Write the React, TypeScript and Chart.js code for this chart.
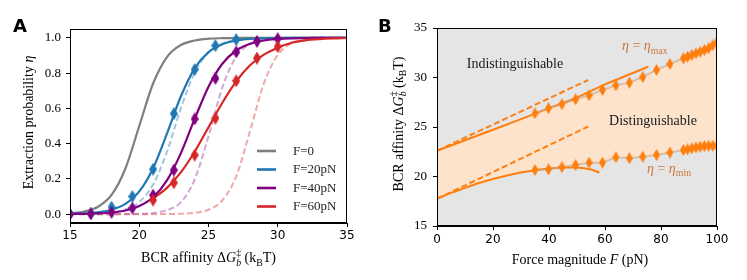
import React, { useEffect, useRef } from "react";
import { Chart, registerables } from "chart.js";
Chart.register(...registerables);

// ---------- Panel A data ----------
const affinity = [15, 16, 17, 18, 19, 20, 21, 22, 23, 24, 25, 26, 27, 28, 29, 30, 31, 32, 33, 34, 35];
const etaF0 = [0.005, 0.015, 0.041, 0.109, 0.259, 0.5, 0.741, 0.891, 0.959, 0.985, 0.995, 0.998, 0.999, 1, 1, 1, 1, 1, 1, 1, 1];
const etaF20 = [0.002, 0.0045, 0.011, 0.025, 0.058, 0.129, 0.261, 0.457, 0.667, 0.827, 0.919, 0.964, 0.985, 0.994, 0.997, 0.999, 1, 1, 1, 1, 1];
const etaF20Dashed = [0.0005, 0.0014, 0.0037, 0.0099, 0.027, 0.069, 0.168, 0.354, 0.599, 0.802, 0.917, 0.968, 0.988, 0.996, 0.998, 0.999, 1, 1, 1, 1, 1];
const etaF40 = [0.0009, 0.0019, 0.0043, 0.0096, 0.021, 0.046, 0.096, 0.192, 0.345, 0.54, 0.723, 0.853, 0.928, 0.966, 0.985, 0.993, 0.997, 0.9986, 0.9994, 1, 1];
const etaF40Dashed = [0, 0, 0.0001, 0.0002, 0.0007, 0.0021, 0.007, 0.023, 0.067, 0.196, 0.442, 0.719, 0.893, 0.964, 0.989, 0.9965, 0.999, 1, 1, 1, 1];
const affinityF60 = [21, 22, 23, 24, 25, 26, 27, 28, 29, 30, 31, 32, 33, 34, 35];
const etaF60 = [0.09, 0.149, 0.237, 0.354, 0.493, 0.632, 0.753, 0.844, 0.905, 0.944, 0.972, 0.986, 0.993, 0.997, 0.999];
const etaF60Dashed = [0, 0, 0, 0, 0, 0.0001, 0.0002, 0.0008, 0.0025, 0.008, 0.025, 0.078, 0.215, 0.471, 0.742, 0.903, 0.968, 0.99, 0.997, 0.999, 1];

const simAffF20 = [15, 16.5, 18, 19.5, 21, 22.5, 24, 25.5, 27];
const simEtaF20 = [0.002, 0.005, 0.04, 0.1, 0.255, 0.57, 0.82, 0.956, 0.99];
const simAffF40 = [15, 16.5, 18, 19.5, 21, 22.5, 24, 25.5, 27, 28.5, 30];
const simEtaF40 = [0.0, 0.002, 0.01, 0.035, 0.108, 0.25, 0.54, 0.77, 0.92, 0.98, 0.995];
const simAffF60 = [21, 22.5, 24, 25.5, 27, 28.5, 30];
const simEtaF60 = [0.08, 0.178, 0.335, 0.544, 0.756, 0.885, 0.95];

const legendLabels = ["F=0", "F=20pN", "F=40pN", "F=60pN"];
const xTicksA = [15, 20, 25, 30, 35];
const yTicksA = [0, 0.2, 0.4, 0.6, 0.8, 1.0];
const yTickLabelsA = ["0.0", "0.2", "0.4", "0.6", "0.8", "1.0"];

// ---------- Panel B data ----------
const forceMarkers = [35, 39.8, 44.6, 49.5, 54.3, 59.1, 63.9, 68.7, 73.5, 78.4, 83.2, 88, 89.5, 91, 92.5, 94, 95.5, 97, 98.5, 100];
const etaMaxMarkers = [26.38, 26.9, 27.3, 27.8, 28.2, 28.74, 29.2, 29.48, 30.05, 30.76, 31.36, 31.94, 32.1, 32.27, 32.44, 32.6, 32.78, 32.95, 33.25, 33.6];
const etaMinMarkers = [20.66, 20.72, 20.95, 21.16, 21.4, 21.4, 21.94, 21.84, 22.0, 22.17, 22.42, 22.68, 22.74, 22.84, 22.94, 23.0, 23.07, 23.1, 23.1, 23.1];
const forceUpperFit = [0, 10, 20, 30, 40, 50, 60, 70, 75.5];
const upperFit = [22.6, 23.66, 24.72, 25.8, 26.9, 28.0, 29.3, 30.45, 31.1];
const forceLowerFit = [0, 5, 10, 15, 20, 25, 30, 35, 40, 45, 50, 55, 58];
const lowerFit = [17.75, 18.35, 18.85, 19.35, 19.75, 20.1, 20.4, 20.62, 20.8, 20.92, 20.9, 20.7, 20.4];
const forceLinear = [0, 54];
const upperLinear = [22.6, 29.75];
const lowerLinear = [17.75, 25.05];
const xTicksB = [0, 20, 40, 60, 80, 100];
const yTicksB = [15, 20, 25, 30, 35];

const SERIF = '"Liberation Serif", "DejaVu Serif", serif';
const SANS = '"DejaVu Sans", sans-serif';
const ORANGE = "#ff7f0e";

type Seg = { t: string; it?: boolean; pos?: "sup" | "sub"; stack?: boolean };

function drawRich(ctx: CanvasRenderingContext2D, segs: Seg[], x: number, y: number, size: number, align: "center" | "left", rotate = 0, color = "#000") {
  ctx.save();
  const items: { t: string; font: string; dx: number; dy: number }[] = [];
  let cx = 0, lastStart = 0, lastW = 0;
  for (const s of segs) {
    const fs = s.pos ? size * 0.7 : size;
    const font = `${s.it ? "italic " : ""}${fs}px ${SERIF}`;
    ctx.font = font;
    const w = ctx.measureText(s.t).width;
    let dx: number;
    if (s.stack) {
      dx = lastStart;
      cx = lastStart + Math.max(lastW, w);
    } else {
      dx = cx;
      lastStart = cx;
      lastW = w;
      cx += w;
    }
    const dy = s.pos === "sup" ? -size * 0.4 : s.pos === "sub" ? size * 0.25 : 0;
    items.push({ t: s.t, font, dx, dy });
  }
  ctx.translate(x, y);
  if (rotate) ctx.rotate(rotate);
  ctx.fillStyle = color;
  ctx.textBaseline = "alphabetic";
  ctx.textAlign = "left";
  const off = align === "center" ? -cx / 2 : 0;
  for (const it of items) {
    ctx.font = it.font;
    ctx.fillText(it.t, off + it.dx, it.dy);
  }
  ctx.restore();
}

const affinityTitle: Seg[] = [
  { t: "BCR affinity Δ" },
  { t: "G", it: true },
  { t: "‡", pos: "sup" },
  { t: "b", pos: "sub", it: true, stack: true },
  { t: " (k" },
  { t: "B", pos: "sub" },
  { t: "T)" },
];

function diamond(color: string, w: number, h: number) {
  const c = document.createElement("canvas");
  c.width = w;
  c.height = h;
  const g = c.getContext("2d")!;
  g.fillStyle = color;
  g.beginPath();
  g.moveTo(w / 2, 0);
  g.lineTo(w, h / 2);
  g.lineTo(w / 2, h);
  g.lineTo(0, h / 2);
  g.closePath();
  g.fill();
  return c;
}

const pts = (xs: number[], ys: number[]) => xs.map((x, i) => ({ x, y: ys[i] }));

function tickScale(min: number, max: number, ticks: number[], labels: string[], isX: boolean, size: number, pad: number) {
  return {
    type: "linear" as const,
    min,
    max,
    afterBuildTicks: (s: any) => {
      s.ticks = ticks.map((v) => ({ value: v }));
    },
    afterFit: (s: any) => {
      if (isX) s.height = size;
      else s.width = size;
    },
    grid: { display: true, drawOnChartArea: false, drawTicks: true, tickLength: 4, tickColor: "#000", tickWidth: 1 },
    border: { display: true, color: "#000", width: 1 },
    ticks: {
      autoSkip: false,
      maxRotation: 0,
      padding: pad,
      color: "#000",
      font: isX ? { family: SANS, size: 12 } : { family: SERIF, size: 13 },
      callback: (_v: any, i: number) => labels[i],
    },
  };
}

function PanelA() {
  const ref = useRef<HTMLCanvasElement>(null);
  useEffect(() => {
    const gray = "#7f7f7f", blue = "#1f77b4", purple = "#800080", red = "#d62728";
    const solid = (label: string, xs: number[], ys: number[], color: string, order: number) => ({
      label, data: pts(xs, ys), borderColor: color, borderWidth: 2.2, pointRadius: 0,
      cubicInterpolationMode: "monotone" as const, fill: false, order,
    });
    const dashed = (xs: number[], ys: number[], color: string, order: number) => ({
      label: "", data: pts(xs, ys), borderColor: color, borderWidth: 2, borderDash: [6, 3], pointRadius: 0,
      cubicInterpolationMode: "monotone" as const, fill: false, order,
    });
    const marks = (xs: number[], ys: number[], color: string, order: number) => ({
      label: "", data: pts(xs, ys), showLine: false, pointStyle: diamond(color, 8, 13) as any,
      pointRadius: 6, borderWidth: 0, backgroundColor: color, order,
    });
    const plugin = {
      id: "decorA",
      afterDraw(chart: any) {
        const ctx = chart.ctx as CanvasRenderingContext2D;
        const a = chart.chartArea;
        ctx.save();
        ctx.strokeStyle = "#000";
        ctx.lineWidth = 1;
        ctx.strokeRect(Math.round(a.left) + 0.5, Math.round(a.top) + 0.5, Math.round(a.right - a.left) - 1, Math.round(a.bottom - a.top) - 1);
        // legend
        const colors = [gray, blue, purple, red];
        const ys = [151, 169.5, 188, 206.5];
        legendLabels.forEach((lab, i) => {
          ctx.strokeStyle = colors[i];
          ctx.lineWidth = 2.6;
          ctx.beginPath();
          ctx.moveTo(257, ys[i]);
          ctx.lineTo(276, ys[i]);
          ctx.stroke();
          ctx.fillStyle = "#222";
          ctx.font = `13px ${SERIF}`;
          ctx.textBaseline = "middle";
          ctx.textAlign = "left";
          ctx.fillText(lab, 293, ys[i] + 0.5);
        });
        // panel label
        ctx.fillStyle = "#000";
        ctx.font = `bold 18px ${SANS}`;
        ctx.textBaseline = "alphabetic";
        ctx.fillText("A", 13, 32);
        ctx.restore();
        drawRich(ctx, affinityTitle, (a.left + a.right) / 2, 262, 14, "center");
        drawRich(ctx, [{ t: "Extraction probability " }, { t: "η", it: true }], 33, 122.5, 14, "center", -Math.PI / 2);
      },
    };
    const chart = new Chart(ref.current!, {
      type: "line",
      data: {
        datasets: [
          solid(legendLabels[0], affinity, etaF0, gray, 8),
          solid(legendLabels[1], affinity, etaF20, blue, 7),
          solid(legendLabels[2], affinity, etaF40, purple, 6),
          solid(legendLabels[3], affinityF60, etaF60, red, 5),
          dashed(affinity, etaF20Dashed, "rgba(31,119,180,0.42)", 12),
          dashed(affinity, etaF40Dashed, "rgba(128,0,128,0.35)", 11),
          dashed(affinity, etaF60Dashed, "rgba(214,39,40,0.4)", 10),
          marks(simAffF20, simEtaF20, blue, 3),
          marks(simAffF40, simEtaF40, purple, 2),
          marks(simAffF60, simEtaF60, red, 1),
        ] as any,
      },
      options: {
        animation: false,
        responsive: false,
        events: [],
        layout: { padding: { top: 29, right: 23, left: 0, bottom: 0 } },
        plugins: { legend: { display: false }, tooltip: { enabled: false }, title: { display: false } },
        scales: {
          x: tickScale(15, 35, xTicksA, xTicksA.map(String), true, 57, 2),
          y: tickScale(-0.05, 1.05, yTicksA, yTickLabelsA, false, 70, 5),
        },
      } as any,
      plugins: [plugin],
    });
    return () => chart.destroy();
  }, []);
  return <canvas ref={ref} width={370} height={280} style={{ position: "absolute", left: 0, top: 0, width: 370, height: 280 }} />;
}

function PanelB() {
  const ref = useRef<HTMLCanvasElement>(null);
  useEffect(() => {
    const bandUpperX = forceUpperFit.filter((x) => x <= 30);
    const bandUpper = upperFit.filter((_, i) => forceUpperFit[i] <= 30);
    const bandLowerX = forceLowerFit.filter((x) => x <= 30 && x % 10 === 0);
    const bandLower = lowerFit.filter((_, i) => forceLowerFit[i] <= 30 && forceLowerFit[i] % 10 === 0);
    const dia = diamond(ORANGE, 7, 12);
    const plugin = {
      id: "decorB",
      beforeDatasetsDraw(chart: any) {
        const ctx = chart.ctx as CanvasRenderingContext2D;
        const a = chart.chartArea;
        ctx.save();
        ctx.fillStyle = "#e5e5e5";
        ctx.fillRect(a.left, a.top, a.right - a.left, a.bottom - a.top);
        ctx.restore();
      },
      afterDraw(chart: any) {
        const ctx = chart.ctx as CanvasRenderingContext2D;
        const a = chart.chartArea;
        ctx.save();
        ctx.strokeStyle = "#000";
        ctx.lineWidth = 1;
        ctx.strokeRect(Math.round(a.left) + 0.5, Math.round(a.top) + 0.5, Math.round(a.right - a.left) - 1, Math.round(a.bottom - a.top) - 1);
        ctx.fillStyle = "#000";
        ctx.font = `bold 18px ${SANS}`;
        ctx.textBaseline = "alphabetic";
        ctx.textAlign = "left";
        ctx.fillText("B", 8, 32);
        ctx.fillStyle = "#1a1a1a";
        ctx.font = `14px ${SERIF}`;
        ctx.textAlign = "center";
        ctx.fillText("Indistinguishable", 515 - 370, 67.5);
        ctx.fillText("Distinguishable", 653 - 370, 124.5);
        ctx.restore();
        const annot = "#c8783c";
        drawRich(ctx, [{ t: "η", it: true }, { t: " = " }, { t: "η", it: true }, { t: "max", pos: "sub" }], 622 - 370, 50, 14, "left", 0, annot);
        drawRich(ctx, [{ t: "η", it: true }, { t: " = " }, { t: "η", it: true }, { t: "min", pos: "sub" }], 647 - 370, 172.5, 14, "left", 0, annot);
        drawRich(ctx, [{ t: "Force magnitude " }, { t: "F", it: true }, { t: " (pN)" }], (a.left + a.right) / 2 + 3, 264, 14, "center");
        drawRich(ctx, affinityTitle, 402.5 - 370, 124, 14, "center", -Math.PI / 2);
      },
    };
    const chart = new Chart(ref.current!, {
      type: "line",
      data: {
        datasets: [
          { label: "max", data: pts(forceMarkers, etaMaxMarkers), borderColor: "rgba(200,165,135,0.6)", borderWidth: 2, pointStyle: dia, pointRadius: 6, fill: false, order: 1 },
          { label: "min", data: pts(forceMarkers, etaMinMarkers), borderColor: "rgba(200,165,135,0.6)", borderWidth: 2, pointStyle: dia, pointRadius: 6, fill: false, order: 2 },
          { label: "upperFit", data: pts(forceUpperFit, upperFit), borderColor: ORANGE, borderWidth: 2, pointRadius: 0, cubicInterpolationMode: "monotone", fill: false, order: 3 },
          { label: "lowerFit", data: pts(forceLowerFit, lowerFit), borderColor: ORANGE, borderWidth: 2, pointRadius: 0, cubicInterpolationMode: "monotone", fill: false, order: 4 },
          { label: "upperLin", data: pts(forceLinear, upperLinear), borderColor: ORANGE, borderWidth: 2, borderDash: [6, 3], pointRadius: 0, fill: false, order: 5 },
          { label: "lowerLin", data: pts(forceLinear, lowerLinear), borderColor: ORANGE, borderWidth: 2, borderDash: [6, 3], pointRadius: 0, fill: false, order: 6 },
          { label: "bandTop", data: pts([...bandUpperX, ...forceMarkers], [...bandUpper, ...etaMaxMarkers]), borderWidth: 0, borderColor: "rgba(0,0,0,0)", backgroundColor: "#fde3cc", pointRadius: 0, cubicInterpolationMode: "monotone", fill: 7, order: 9 },
          { label: "bandBottom", data: pts([...bandLowerX, ...forceMarkers], [...bandLower, ...etaMinMarkers]), borderWidth: 0, borderColor: "rgba(0,0,0,0)", pointRadius: 0, cubicInterpolationMode: "monotone", fill: false, order: 10 },
        ] as any,
      },
      options: {
        animation: false,
        responsive: false,
        events: [],
        layout: { padding: { top: 28, right: 30, left: 0, bottom: 0 } },
        plugins: { legend: { display: false }, tooltip: { enabled: false }, title: { display: false } },
        scales: {
          x: tickScale(0, 100, xTicksB, xTicksB.map(String), true, 54, 3),
          y: tickScale(15, 35, yTicksB, yTicksB.map(String), false, 67, 6),
        },
      } as any,
      plugins: [plugin],
    });
    return () => chart.destroy();
  }, []);
  return <canvas ref={ref} width={377} height={280} style={{ position: "absolute", left: 370, top: 0, width: 377, height: 280 }} />;
}

export default function App() {
  return (
    <div style={{ position: "absolute", left: 0, top: 0, width: 747, height: 280, background: "#fff" }}>
      <PanelA />
      <PanelB />
    </div>
  );
}
